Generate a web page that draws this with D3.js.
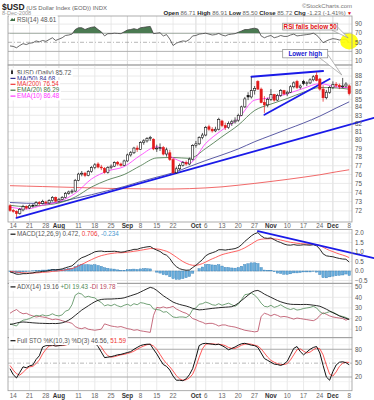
<!DOCTYPE html>
<html><head><meta charset="utf-8">
<script src="https://cdn.jsdelivr.net/npm/d3@7"></script>
<style>
html,body{margin:0;padding:0;background:#fff;}
svg{display:block;font-family:"Liberation Sans",Arial,sans-serif;}
</style></head><body>
<svg id="c" width="374" height="400"></svg>
<script>
// ---------- DATA ----------
const startDate = "2008-07-11", endDate = "2008-12-08";
const holidays = ["2008-09-01","2008-11-27"];

const open = [72.55,72.05,71.95,71.70,72.10,72.45,72.30,72.55,72.60,72.90, 72.80,72.95,72.85,73.10,73.45,73.05,73.25,73.45,73.90,74.05, 74.15,75.35,76.05,76.15,75.90,76.35,76.80,77.20,76.85,76.70, 76.25,76.80,76.95,77.40,77.20,77.05,77.55,78.25,78.50,79.05, 78.90,79.70,79.90,80.20,80.10,78.95,79.05,79.10,78.35,78.50, 77.70,76.20,76.65,77.05,77.35,77.20,77.75,79.35,79.55,80.30, 80.60,81.60,81.30,81.10,81.30,82.30,81.75,81.50,82.00,82.20, 82.40,83.00,84.05,85.50,85.30,86.10,87.30,86.30,84.60,84.30, 85.00,85.60,84.90,85.50,86.10,85.70,85.90,86.60,87.30,86.50, 87.30,87.00,87.10,87.50,88.10,87.60,86.30,85.20,85.90,86.50, 86.90,86.80,86.60,86.70,86.71];
const high = [72.70,72.20,72.05,72.30,72.65,72.60,72.70,72.75,73.05,73.05, 73.20,73.10,73.25,73.60,73.55,73.40,73.60,74.05,74.20,74.35, 75.50,76.20,76.40,76.30,76.50,76.95,77.30,77.40,77.10,76.85, 76.95,77.15,77.50,77.55,77.35,77.70,78.40,78.70,79.20,79.35, 79.85,80.10,80.35,80.50,80.20,79.45,79.60,79.30,79.10,78.85, 77.90,76.90,77.25,77.55,77.60,77.95,79.50,79.90,80.45,80.85, 81.70,81.85,81.55,81.60,82.70,82.45,82.10,82.25,82.45,82.75, 83.20,84.20,85.30,85.90,87.85,86.70,87.45,86.50,85.40,85.20, 86.30,85.70,85.70,86.30,86.20,86.10,86.80,87.30,87.50,86.90, 87.50,87.30,87.70,88.10,88.50,87.75,86.80,86.20,86.70,87.30, 87.20,87.00,87.75,87.20,86.91];
const low = [71.90,71.80,71.30,71.60,71.95,72.15,72.20,72.35,72.50,72.60, 72.70,72.70,72.75,73.00,72.95,72.90,73.15,73.35,73.75,73.85, 74.05,75.25,75.80,75.70,75.80,76.20,76.60,76.70,76.50,76.10, 76.10,76.60,76.85,77.00,76.90,76.95,77.45,78.05,78.35,78.60, 78.85,79.45,79.70,79.90,78.80,78.60,78.70,78.20,78.05,77.55, 76.05,76.10,76.50,76.90,77.00,77.05,77.60,79.10,79.40,80.10, 80.45,81.10,80.90,80.95,81.15,81.55,81.20,81.35,81.70,82.00, 82.20,82.90,83.90,84.90,85.10,85.60,86.20,84.50,83.30,84.00, 84.80,84.70,84.80,85.30,85.50,85.40,85.80,86.40,86.30,86.30, 86.80,86.70,86.95,87.30,87.30,86.10,84.70,85.00,85.70,86.30, 86.50,86.30,86.40,86.50,85.50];
const close = [72.05,71.95,71.70,72.15,72.45,72.30,72.55,72.60,72.90,72.80, 73.00,72.85,73.10,73.45,73.05,73.25,73.45,73.90,74.05,74.15, 75.35,76.05,76.15,75.90,76.35,76.80,77.10,76.85,76.75,76.25, 76.80,76.95,77.35,77.20,77.05,77.55,78.25,78.50,79.05,78.90, 79.70,79.90,80.20,80.30,78.95,79.05,79.10,78.35,78.85,77.70, 76.20,76.65,77.05,77.35,77.20,77.75,79.35,79.55,80.30,80.60, 81.50,81.30,81.10,81.30,82.50,81.75,81.50,82.00,82.20,82.40, 83.00,84.05,85.05,85.30,86.10,86.40,86.30,84.60,84.30,85.00, 85.60,84.90,85.50,86.10,85.70,85.90,86.60,87.10,86.50,86.70, 87.00,87.10,87.50,87.90,87.40,86.30,85.20,85.90,86.50,86.90, 86.80,86.60,86.70,86.95,85.72];

// moving averages read at weekly points
const maDates = ["2008-07-11","2008-07-18","2008-07-25","2008-08-01","2008-08-08","2008-08-15","2008-08-22","2008-08-29","2008-09-08","2008-09-15","2008-09-22","2008-09-29","2008-10-06","2008-10-13","2008-10-20","2008-10-27","2008-11-03","2008-11-10","2008-11-17","2008-11-24","2008-12-02","2008-12-08"];
const ma50  = [72.90,72.82,72.80,72.95,73.35,73.75,74.20,74.65,75.20,75.70,76.20,76.90,77.60,78.25,78.95,79.80,80.55,81.30,82.05,82.90,83.90,84.68];
const ma200 = [74.75,74.70,74.65,74.60,74.55,74.50,74.45,74.42,74.40,74.38,74.38,74.42,74.50,74.62,74.80,75.00,75.22,75.45,75.70,75.97,76.30,76.54];
const ema20 = [72.60,72.45,72.60,72.85,73.50,74.60,75.40,76.00,77.00,77.90,77.95,77.85,79.00,80.40,81.80,83.60,84.40,85.10,85.90,86.50,86.45,86.29];
const ema10 = [72.40,72.20,72.60,73.00,73.90,75.50,76.40,76.90,78.20,79.20,77.90,77.30,79.60,81.20,82.60,84.90,85.20,85.70,86.40,87.00,86.60,86.48];

const rsi = [42,41,38,43,47,45,48,49,53,51, 54,52,56,60,54,57,60,65,66,68, 78,82,82,78,81,83,84,78,73,64, 69,69,70,69.5,69,73,77,78,80,78, 82,83,84,85,69,70,71,64,67,57, 43,48,51,53,52,56,64,65,68,69, 70,68,66,67,69.5,66,64,67,68,69, 72,75,78,78,80,81,79,64,60,63, 65,60,62,65,63,63,66,68,64,65, 66,67,68,70,66,58,49,53,56,58, 57,55,56,57,48.61];

const macd = [-0.05,-0.10,-0.17,-0.17,-0.14,-0.14,-0.12,-0.10,-0.06,-0.05, -0.02,-0.01,0.02,0.07,0.06,0.08,0.11,0.17,0.22,0.27, 0.42,0.58,0.70,0.76,0.84,0.92,1.01,1.04,1.05,1.02, 1.03,1.03,1.04,1.02,0.99,1.01,1.06,1.09,1.14,1.14, 1.20,1.24,1.27,1.29,1.18,1.10,1.03,0.90,0.83,0.66, 0.40,0.23,0.12,0.07,0.04,0.05,0.18,0.30,0.45,0.60, 0.80,0.90,0.96,1.02,1.12,1.12,1.10,1.13,1.15,1.18, 1.25,1.38,1.56,1.70,1.85,1.96,2.02,1.85,1.74,1.72, 1.74,1.65,1.56,1.50,1.42,1.37,1.36,1.39,1.36,1.36, 1.38,1.37,1.36,1.38,1.33,1.15,0.90,0.80,0.77,0.75, 0.70,0.66,0.63,0.62,0.472];
const signal = [-0.02,-0.04,-0.06,-0.08,-0.10,-0.10,-0.11,-0.11,-0.10,-0.09, -0.07,-0.06,-0.05,-0.02,-0.01,0.01,0.03,0.06,0.09,0.13, 0.19,0.27,0.35,0.43,0.52,0.60,0.68,0.75,0.81,0.85, 0.89,0.92,0.94,0.96,0.96,0.97,0.99,1.01,1.04,1.06, 1.09,1.12,1.15,1.18,1.18,1.16,1.14,1.09,1.04,0.96, 0.85,0.73,0.61,0.50,0.41,0.34,0.30,0.30,0.33,0.39, 0.47,0.56,0.64,0.71,0.79,0.86,0.91,0.95,0.99,1.03, 1.07,1.14,1.22,1.32,1.42,1.53,1.63,1.67,1.69,1.69, 1.70,1.69,1.67,1.63,1.59,1.55,1.51,1.49,1.46,1.44, 1.43,1.42,1.41,1.40,1.39,1.34,1.25,1.16,1.08,1.02, 0.95,0.89,0.84,0.78,0.706];
const hist = [-0.03,-0.06,-0.11,-0.09,-0.05,-0.04,-0.01,0.01,0.04,0.04, 0.05,0.05,0.07,0.09,0.07,0.07,0.08,0.11,0.13,0.14, 0.23,0.32,0.35,0.33,0.33,0.32,0.33,0.29,0.24,0.17, 0.14,0.11,0.10,0.06,0.03,0.04,0.07,0.08,0.10,0.08, 0.11,0.12,0.12,0.11,0.00,-0.06,-0.11,-0.19,-0.21,-0.30, -0.40,-0.44,-0.44,-0.40,-0.35,-0.29,-0.12,0.00,0.12,0.21, 0.33,0.35,0.32,0.31,0.33,0.26,0.19,0.18,0.16,0.15, 0.18,0.25,0.34,0.38,0.43,0.43,0.39,0.18,0.05,0.03, 0.04,-0.04,-0.11,-0.13,-0.17,-0.18,-0.15,-0.10,-0.10,-0.08, -0.05,-0.05,-0.05,-0.02,-0.06,-0.19,-0.35,-0.36,-0.31,-0.27, -0.25,-0.23,-0.21,-0.16,-0.234];

const adx = [14.5,15.0,15.8,16.5,16.8,16.6,16.3,16.0,15.8,15.6, 15.5,15.4,15.3,15.4,15.3,15.5,16.0,17.0,18.5,20.5, 23.0,25.5,28.0,30.0,32.0,34.0,35.8,37.2,38.0,38.3, 38.4,38.4,38.6,38.8,39.0,39.5,40.5,41.5,42.5,43.5, 45.0,46.5,48.0,49.4,48.5,46.5,44.0,41.5,39.5,37.5, 35.5,34.3,33.3,32.5,31.8,30.8,29.6,28.8,28.2,28.4, 28.8,29.2,29.6,29.9,30.2,30.5,30.7,30.9,31.2,32.5, 34.5,37.0,39.5,42.0,44.5,46.0,46.5,45.0,43.0,41.5, 40.0,38.5,37.0,35.8,34.8,34.0,33.5,33.3,33.3,33.2, 33.3,33.3,33.0,32.6,32.2,31.6,30.3,28.8,27.2,25.5, 24.0,22.6,21.3,20.2,19.16];
const plusDI = [15.0,14.0,13.0,16.5,18.5,19.0,20.0,21.5,23.0,22.5, 23.5,22.5,23.0,24.5,23.0,22.5,23.5,27.0,28.0,33.0, 42.0,44.0,43.0,40.0,41.0,40.0,39.5,37.0,35.0,32.0, 33.0,32.0,33.5,32.0,31.0,32.5,33.5,32.0,34.0,33.0, 35.0,34.5,33.5,33.0,29.0,28.5,28.0,26.0,26.5,24.0, 21.5,21.0,21.5,21.5,21.0,23.0,28.5,30.0,33.5,34.0, 35.5,34.5,33.0,32.5,34.0,32.5,33.5,34.5,33.0,31.5, 33.5,38.0,42.5,43.0,44.0,42.0,39.0,34.5,31.5,31.0, 32.5,30.5,31.5,33.0,31.0,29.5,28.5,29.5,28.0,28.5, 29.5,30.0,30.5,31.5,30.0,26.5,24.5,25.5,26.5,26.0, 24.5,22.5,22.0,21.0,19.43];
const minusDI = [25.0,27.0,28.5,26.0,24.5,25.0,23.5,22.5,21.5,22.0, 21.5,21.0,20.0,19.0,19.5,19.0,18.0,17.0,16.5,15.5, 12.5,11.0,10.5,11.5,10.0,9.5,9.0,9.5,10.0,15.0, 14.0,13.0,12.5,12.0,12.5,11.5,10.5,10.0,9.0,9.5, 8.5,8.0,7.5,7.0,23.0,30.5,30.0,31.0,30.0,30.5, 31.5,29.0,27.5,26.0,25.0,23.0,20.0,19.0,17.5,16.5, 15.0,15.5,15.5,14.5,13.0,14.0,14.0,13.0,12.5,12.0, 11.0,10.0,9.0,8.5,8.0,7.5,8.0,22.0,25.0,24.0, 22.5,24.0,23.0,21.5,22.0,21.5,20.5,19.5,20.5,20.0, 19.5,19.0,18.5,18.0,19.5,23.0,25.5,24.0,22.5,21.5, 21.0,20.5,20.0,18.5,19.78];

const stoK = [38,25,18,30,42,40,44,46,58,66, 85,88,88,89,87,88,89,90,93,95, 98,99,98,96,97,98,94,86,74,62, 63,64,66,68,69,71,73,75,80,84, 88,90,91,91,80,70,58,47,43,35, 22,13,13,12,16,25,38,62,88,92, 93,92,91,90,91,88,84,79,82,85, 89,92,93,91,89,88,84,72,60,56, 52,48,47,45,48,54,68,82,86,75, 68,74,80,84,86,72,45,20,13,32, 46,52,53,51,46.56];
const stoD = [45,35,27,24,30,37,42,43,49,57, 70,80,87,88,88,88,88,89,91,93, 95,97,98,98,97,97,96,93,85,74, 66,63,64,66,68,69,71,73,76,80, 84,87,90,91,87,80,69,58,49,42, 33,23,16,13,14,18,26,42,63,81, 91,92,92,91,91,90,88,84,82,82, 85,89,91,92,91,89,87,81,72,63, 56,52,49,47,47,49,57,68,79,81, 76,72,74,79,83,81,68,46,26,22, 31,43,50,52,51.59];

const rsiTicks = [90,70,50,30,10];
const priceTicks = [88,87,86,85,84,83,82,81,80,79,78,77,76,75,74,73,72];
const macdTicks = [2.0,1.5,1.0,0.5,0.0,-0.5];
const adxTicks = [50,40,30,20,10];
const stoTicks = [80,50,20];
const tickDates = ["2008-07-14","2008-07-21","2008-07-28","2008-08-01","2008-08-11","2008-08-18","2008-08-25","2008-09-02","2008-09-08","2008-09-15","2008-09-22","2008-10-01","2008-10-06","2008-10-13","2008-10-20","2008-10-27","2008-11-03","2008-11-10","2008-11-17","2008-11-24","2008-12-01","2008-12-08"];
const tickLabels = ["14","21","28","Aug","11","18","25","Sep","8","15","22","Oct","6","13","20","27","Nov","10","17","24","Dec","8"];

// trendlines (date, value)
const priceTrend1 = [["2008-07-15",71.25],["2008-09-22",76.05]];
const priceTrendLow = [["2008-10-30",83.06],["2008-11-28",87.6]];
const priceTrendHigh = [["2008-10-24",87.9],["2008-11-25",88.66]];
const macdTrend = [["2008-10-28",2.1],["2008-12-08",0.98]];

// ---------- SETUP ----------
const fmtD = d3.utcFormat("%Y-%m-%d");
const days = d3.utcDays(new Date(startDate), d3.utcDay.offset(new Date(endDate),1))
  .filter(d => d.getUTCDay()%6 !== 0 && !holidays.includes(fmtD(d))).map(fmtD);
const svg = d3.select("#c");
const xL = 8, xR = 352;
const x = d3.scalePoint().domain(days).range([10, 349.2]);
const xi = i => x(days[i]);

const P = {
  rsi:{y0:16,y1:65}, price:{y0:65,y1:222}, macd:{y0:229.5,y1:283.3},
  adx:{y0:283.3,y1:337.7}, sto:{y0:337.7,y1:390.7}
};
const yR = d3.scaleLinear().domain([0,100]).range([65.05,19.55]);
const yP = d3.scaleLog().domain([72,88]).range([210.85,76]);
const yM = d3.scaleLinear().domain([-0.5,2.0]).range([280.5,233]);
const yA = d3.scaleLinear().domain([10,50]).range([329.2,286.7]);
const yS = d3.scaleLinear().domain([20,80]).range([377,349.3]);

const defs = svg.append("defs");
Object.entries(P).forEach(([k,p])=>{
  defs.append("clipPath").attr("id","clip-"+k).append("rect")
    .attr("x",xL).attr("y",p.y0).attr("width",xR-xL).attr("height",p.y1-p.y0);
});

const FS = 6.3;
const labelCol = "#555";

function vgrid(p){
  tickDates.forEach((d,k)=>{
    const month = isNaN(+tickLabels[k]);
    svg.append("line").attr("x1",x(d)).attr("x2",x(d)).attr("y1",p.y0).attr("y2",p.y1)
      .attr("stroke", month ? "#cfcfcf" : "#e4e4e4").attr("stroke-width",0.8);
  });
}
function hgrid(p, scale, vals, style){
  vals.forEach(v=>{
    const s = style ? style(v) : {c:"#e4e4e4",w:0.8};
    svg.append("line").attr("x1",xL).attr("x2",xR).attr("y1",scale(v)).attr("y2",scale(v))
      .attr("stroke",s.c).attr("stroke-width",s.w).attr("stroke-dasharray",s.d||null);
  });
}
function ylabels(scale, vals, f){
  vals.forEach(v=>{
    svg.append("text").attr("x",355).attr("y",scale(v)+2.2).attr("font-size",FS)
      .attr("fill",labelCol).text(f(v));
  });
}
function border(p){
  svg.append("rect").attr("x",xL).attr("y",p.y0).attr("width",xR-xL).attr("height",p.y1-p.y0)
    .attr("fill","none").attr("stroke","#999").attr("stroke-width",0.8);
}
function xlabels(yb){
  tickDates.forEach((d,k)=>{
    const month = isNaN(+tickLabels[k]);
    svg.append("text").attr("x",x(d)).attr("y",yb).attr("text-anchor","middle")
      .attr("font-size",FS).attr("font-weight",month?"bold":"normal")
      .attr("fill",month?"#333":"#666").text(tickLabels[k]);
  });
}
function legend(xp, yb, parts, swatch){
  const g = svg.append("g");
  const t = g.append("text").attr("x",xp).attr("y",yb).attr("font-size",FS);
  parts.forEach(p=> t.append("tspan").attr("fill",p.c).attr("font-weight",p.b?"bold":null).text(p.t));
  const bb = t.node().getBBox();
  g.insert("rect","text").attr("x",xp-8).attr("y",bb.y-0.3).attr("width",bb.width+9).attr("height",bb.height+0.6).attr("fill","#fff");
  if(swatch) g.append("line").attr("x1",xp-6.5).attr("x2",xp-1.5).attr("y1",yb-2.1).attr("y2",yb-2.1)
      .attr("stroke",swatch).attr("stroke-width",1.2);
  return g;
}
function lineOf(data, xs, ys, clip, color, w, curve){
  const gen = d3.line().x((d,i)=>xs(i)).y(d=>ys(d)).curve(curve||d3.curveLinear);
  svg.append("path").datum(data).attr("d",gen).attr("fill","none").attr("stroke",color)
    .attr("stroke-width",w).attr("clip-path","url(#clip-"+clip+")").attr("stroke-linejoin","round");
}
function trend(pts, ys, extend, clip){
  const x1 = x(pts[0][0]), y1 = ys(pts[0][1]), x2 = x(pts[1][0]), y2 = ys(pts[1][1]);
  const xe = extend ? 374 : x2, ye = y1 + (y2-y1)/(x2-x1)*(xe-x1);
  svg.append("line").attr("x1",x1).attr("y1",y1).attr("x2",xe).attr("y2",ye)
    .attr("stroke","#1a1ae8").attr("stroke-width",1.8).attr("stroke-linecap","round")
    .attr("clip-path", clip ? "url(#clip-"+clip+")" : null);
}

// ---------- HEADER ----------
const h1 = svg.append("text").attr("x",2).attr("y",9.5);
h1.append("tspan").attr("font-size",8.5).attr("font-weight","bold").attr("fill","#222").text("$USD");
h1.append("tspan").attr("font-size",6).attr("fill","#666").text(" (US Dollar Index (EOD)) INDX");
svg.append("text").attr("x",352).attr("y",7.5).attr("text-anchor","end").attr("font-size",6)
  .attr("fill","#777").text("©StockCharts.com");
svg.append("text").attr("x",2).attr("y",15.3).attr("font-size",5.6).attr("fill","#999").text("8-Dec-2008");
const h2 = svg.append("text").attr("x",352).attr("y",15.3).attr("text-anchor","end").attr("font-size",6);
[["Open",1],[" 86.71 ",0],["High",1],[" 86.91 ",0],["Low",1],[" 85.50 ",0],["Close",1],[" 85.72 ",0],["Chg",1],[" -1.23 (-1.41%)",0]]
  .forEach(([t,b])=> h2.append("tspan").attr("font-weight",b?"bold":"normal").attr("fill",b?"#222":"#666").text(t));
h2.append("tspan").attr("fill","#d00").attr("font-size",5).text(" ▼");

// ---------- RSI PANEL ----------
vgrid(P.rsi);
hgrid(P.rsi, yR, rsiTicks, v => v===50 ? {c:"#999",w:0.7,d:"4,2,1,2"} : (v===70||v===30) ? {c:"#aaa",w:0.9} : {c:"#e4e4e4",w:0.8});
svg.append("defs").append("clipPath").attr("id","above70").append("rect")
  .attr("x",xL).attr("y",P.rsi.y0).attr("width",xR-xL).attr("height",yR(70)-P.rsi.y0);
svg.append("path").datum(rsi)
  .attr("d", d3.area().x((d,i)=>xi(i)).y0(yR(70)).y1(d=>yR(d)))
  .attr("fill","#4b7a52").attr("clip-path","url(#above70)");
lineOf(rsi, xi, yR, "rsi", "#444", 0.8);
// yellow circle
svg.append("ellipse").attr("cx",xi(104)).attr("cy",yR(rsi[104])-1.5).attr("rx",9).attr("ry",8)
  .attr("fill","#ffff00").attr("opacity",0.9);
ylabels(yR, rsiTicks, v=>v);
border(P.rsi);
const lgR = legend(17, 21.5, [{t:"RSI(14) 48.61", c:"#555"}]);
svg.append("path").attr("d","M10,21 L12,18 L13.5,19.5 L15,17.8 L15,21 Z").attr("fill","#3f6f45");

// ---------- PRICE PANEL ----------
vgrid(P.price);
hgrid(P.price, yP, priceTicks.concat([89]));
const maLine = (vals,color,w)=>{
  const gen = d3.line().x((d,i)=>x(maDates[i])).y(d=>yP(d)).curve(d3.curveMonotoneX);
  svg.append("path").datum(vals).attr("d",gen).attr("fill","none").attr("stroke",color)
    .attr("stroke-width",w).attr("clip-path","url(#clip-price)");
};
maLine(ma200, "#ee4444", 0.8);
maLine(ma50, "#33338f", 0.8);
maLine(ema20, "#3f7040", 0.8);
maLine(ema10, "#ff33ff", 0.8);
trend(priceTrend1, yP, true, null);
trend(priceTrendLow, yP, false, "price");
trend(priceTrendHigh, yP, false, "price");
// candles
const cw = 2.2;
const cg = svg.append("g").attr("clip-path","url(#clip-price)");
days.forEach((d,i)=>{
  const o=open[i], c=close[i], pc = i>0 ? close[i-1] : open[i];
  const col = c < pc ? "#e21a1a" : "#111";
  const filled = c < o;
  const xc = x(d);
  cg.append("line").attr("x1",xc).attr("x2",xc).attr("y1",yP(high[i])).attr("y2",yP(low[i]))
    .attr("stroke",col).attr("stroke-width",0.7);
  const yt = yP(Math.max(o,c)), yb = yP(Math.min(o,c));
  cg.append("rect").attr("x",xc-cw/2).attr("y",yt).attr("width",cw).attr("height",Math.max(0.6,yb-yt))
    .attr("fill", filled ? col : "#fff").attr("stroke",col).attr("stroke-width",0.6);
});
ylabels(yP, priceTicks, v=>v);
border(P.price);
legend(17, 74.5, [{t:"$USD (Daily) 85.72", c:"#555"}]);
svg.append("rect").attr("x",11).attr("y",70.5).attr("width",2).attr("height",3.5).attr("fill","#333");
svg.append("line").attr("x1",12).attr("x2",12).attr("y1",69.5).attr("y2",75).attr("stroke","#333").attr("stroke-width",0.6);
legend(17, 80.5, [{t:"MA(50) 84.68", c:"#33338f"}], "#33338f");
legend(17, 86.4, [{t:"MA(200) 76.54", c:"#ee3333"}], "#ee3333");
legend(17, 92.3, [{t:"EMA(20) 86.29", c:"#3f7040"}], "#3f7040");
legend(17, 98.2, [{t:"EMA(10) 86.48", c:"#ff33ff"}], "#ff33ff");
xlabels(228);

// ---------- MACD PANEL ----------
vgrid(P.macd);
hgrid(P.macd, yM, macdTicks, v => v===0 ? {c:"#cfcfcf",w:0.8} : {c:"#e4e4e4",w:0.8});
const hg = svg.append("g").attr("clip-path","url(#clip-macd)");
hist.forEach((v,i)=>{
  const y0 = yM(0), y1 = yM(v);
  hg.append("rect").attr("x",xi(i)-1.2).attr("width",2.4).attr("y",Math.min(y0,y1)).attr("height",Math.abs(y1-y0))
    .attr("fill","#6aaedc").attr("stroke","#2f7ab4").attr("stroke-width",0.4);
});
lineOf(signal, xi, yM, "macd", "#ff3b3b", 0.8);
lineOf(macd, xi, yM, "macd", "#111", 0.9);
trend(macdTrend, yM, true, null);
ylabels(yM, macdTicks, v=>d3.format(".1f")(v));
border(P.macd);
legend(17, 236.3, [{t:"MACD(12,26,9) 0.472, ",c:"#555"},{t:"0.706",c:"#ee3333"},{t:", ",c:"#555"},{t:"-0.234",c:"#4a9ad0"}], "#111");

// ---------- ADX PANEL ----------
vgrid(P.adx);
hgrid(P.adx, yA, adxTicks);
lineOf(minusDI, xi, yA, "adx", "#b8485e", 0.8);
lineOf(plusDI, xi, yA, "adx", "#4f8a55", 0.8);
lineOf(adx, xi, yA, "adx", "#111", 0.9);
ylabels(yA, adxTicks, v=>v);
border(P.adx);
legend(17, 289, [{t:"ADX(14) 19.16 ",c:"#555"},{t:"+DI 19.43 ",c:"#4f8a55"},{t:"-DI 19.78",c:"#b8485e"}], "#111");

// ---------- STO PANEL ----------
vgrid(P.sto);
hgrid(P.sto, yS, [90,80,70,60,50,40,30,20,10], v => v===50 ? {c:"#999",w:0.7,d:"4,2,1,2"} : (v===80||v===20) ? {c:"#aaa",w:1.1} : {c:"#ececec",w:0.6});
lineOf(stoD, xi, yS, "sto", "#ff3030", 0.8);
lineOf(stoK, xi, yS, "sto", "#111", 1.0);
ylabels(yS, stoTicks, v=>v);
border(P.sto);
legend(17, 342.8, [{t:"Full STO %K(10,3) %D(3) 46.56, ",c:"#555"},{t:"51.59",c:"#ee3333"}], "#111");
xlabels(397.5);

// ---------- CALLOUTS ----------
function callout(text, color, bx, by, bw, bh, tip, base){
  svg.append("path").attr("d",`M${base[0][0]},${base[0][1]} L${tip[0]},${tip[1]} L${base[1][0]},${base[1][1]}`)
    .attr("fill","#fff").attr("stroke","#888").attr("stroke-width",0.6);
  svg.append("rect").attr("x",bx).attr("y",by).attr("width",bw).attr("height",bh)
    .attr("fill","#fff").attr("stroke","#888").attr("stroke-width",0.7);
  svg.append("text").attr("x",bx+bw/2).attr("y",by+bh/2+2.2).attr("text-anchor","middle")
    .attr("font-size",6.3).attr("font-weight","bold").attr("fill",color).text(text);
}
{
  const bx = x("2008-11-06")+2, by = yR(92);
  callout("RSI falls below 50", "#e01010", bx, by, 55, 6.8,
    [xi(104)-1, yR(rsi[104])-5], [[bx+49,by+6.8],[bx+54,by+3]]);
  const bx2 = x("2008-11-06")+2, by2 = yR(34.5);
  callout("Lower high", "#1515d0", bx2, by2, 45, 8.5,
    [x("2008-12-04")-1, yP(88.15)], [[bx2+37,by2+8.5],[bx2+45,by2+5]]);
}
</script>
</body></html>
